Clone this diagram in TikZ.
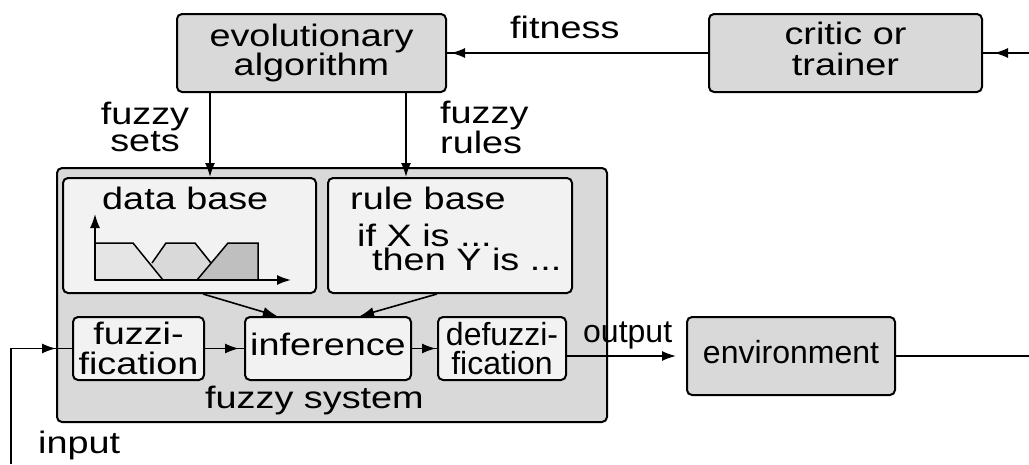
\documentclass[tikz,border=0pt]{standalone}
\usepackage{fontspec}
\setmainfont[FakeStretch=1.22]{Liberation Sans}
\newfontfamily\plainsf{Liberation Sans}
\usetikzlibrary{arrows.meta}

\definecolor{boxgray}{gray}{0.85}
\definecolor{panel}{gray}{0.95}
\definecolor{mfa}{gray}{0.90}
\definecolor{mfb}{gray}{0.85}
\definecolor{mfc}{gray}{0.75}

\begin{document}
\begin{tikzpicture}[x=1pt,y=-1pt,
  txt/.style={inner sep=0pt, font=\fontsize{31}{26}\selectfont},
  outerbox/.style={draw, line width=2pt, fill=boxgray, rounded corners=5pt, inner sep=0pt, align=center},
  innerbox/.style={draw, line width=2pt, fill=panel, rounded corners=5pt, inner sep=0pt, align=center},
  oneline/.style={text depth=9pt},
  conn/.style={line width=1.6pt},
  arr/.style={conn, -{Latex[length=14pt,width=10pt]}},
]
\useasboundingbox (0,0) rectangle (1029,464);

% top row
\node[outerbox, minimum width=269pt, minimum height=78pt,
      font=\fontsize{31}{26}\selectfont] (ea) at (311.5,53) {evolutionary\\algorithm};
\node[outerbox, minimum width=273pt, minimum height=78pt, text depth=8pt,
      font=\fontsize{31}{31}\selectfont] (critic) at (845.5,53) {critic or\\trainer};

% fuzzy system frame and its parts
\node[outerbox, minimum width=550pt, minimum height=254pt] (fsys) at (332,295) {};
\node[innerbox, minimum width=253pt, minimum height=115pt] (db) at (189.5,235.5) {};
\node[innerbox, minimum width=244pt, minimum height=115pt] (rb) at (450,235.5) {};
\node[innerbox, minimum width=131pt, minimum height=63pt,
      font=\fontsize{31}{30}\selectfont] (fuzz) at (138.5,348.5) {fuzzi-\\fication};
\node[innerbox, oneline, minimum width=166pt, minimum height=63pt,
      font=\fontsize{31}{30}\selectfont] (inf) at (328,348.5) {inference};
\node[innerbox, minimum width=128pt, minimum height=63pt,
      font=\plainsf\fontsize{32}{29}\selectfont] (defuzz) at (502,348.5) {defuzzi-\\fication};
\node[outerbox, oneline, minimum width=208pt, minimum height=78pt,
      font=\plainsf\fontsize{32}{30}\selectfont] (env) at (791,356) {environment};

% texts
\node[txt, anchor=base west] (fsyslbl) at (205,408) {fuzzy system};
\node[txt, anchor=base west] (dblbl) at (102,209) {data base};
\node[txt, anchor=base west] (rblbl) at (350,209) {rule base};
\node[txt, anchor=base west] (rule1) at (357,246) {if X is ...};
\node[txt, anchor=base west] (rule2) at (372,270) {then Y is ...};
\node[txt, anchor=base west] (fitlbl) at (510,38) {fitness};
\node[txt, align=center, font=\fontsize{31}{23}\selectfont] (setslbl) at (145,127) {fuzzy\\sets};
\node[txt, align=left, anchor=west, font=\fontsize{31}{23}\selectfont] (ruleslbl) at (440,127) {fuzzy\\rules};
\node[txt, anchor=base west, font=\plainsf\fontsize{32}{30}\selectfont] (outlbl) at (583,342) {output};
\node[txt, anchor=base west] (inlbl) at (38,453) {input};

% membership functions in the data base
\fill[mfb] (140,280) -- (166,243) -- (195,243) -- (225,280) -- cycle;
\filldraw[fill=mfa, line width=1.5pt] (95,280) -- (95,243) -- (133,243) -- (163,280) -- cycle;
\filldraw[fill=mfc, line width=1.5pt] (197,280) -- (228,243) -- (258,243) -- (258,280) -- cycle;
\draw[line width=1.5pt, line join=miter] (152,263) -- (166,243) -- (195,243) -- (211,263);
\coordinate (ax0) at (95,280);
\coordinate (axy) at (95,214);
\coordinate (axx) at (291,280);
\draw[arr] (ax0) -- (axy);
\draw[arr] (ax0) -- (axx);

% evolutionary loop
\coordinate (critin) at (1029,53);
\coordinate (envout) at (1029,356);
\draw[conn] (critic.west) -- (ea.east);
\draw[arr, shorten >=4pt] (critic.west) -- (ea.east);
\draw[conn] (critin) -- (critic.east);
\draw[arr, shorten >=11pt] (critin) -- (critic.east);
\coordinate (sx) at (210,0);
\coordinate (rx) at (406,0);
\draw[arr] (ea.south -| sx) -- (db.north -| sx);
\draw[arr] (ea.south -| rx) -- (rb.north -| rx);

% knowledge into inference
\draw[arr] ([xshift=13.5pt]db.south) -- ([xshift=-51pt]inf.north);
\draw[arr] ([xshift=-13pt]rb.south) -- ([xshift=32pt]inf.north);

% signal path
\coordinate (inb) at (11,464);
\coordinate (sysin) at (fsys.west |- fuzz.west);
\draw[conn] (inb) |- (fuzz.west);
\draw[arr] (inb) |- (sysin);
\draw[conn] (fuzz.east) -- (inf.west);
\draw[arr, shorten >=5pt] (fuzz.east) -- (inf.west);
\draw[conn] (inf.east) -- (defuzz.west);
\draw[arr, shorten >=1pt] (inf.east) -- (defuzz.west);
\draw[arr, shorten >=10pt] (defuzz.east |- env.west) -- (env.west);
\draw[conn] (env.east) -- (envout);
\end{tikzpicture}
\end{document}
